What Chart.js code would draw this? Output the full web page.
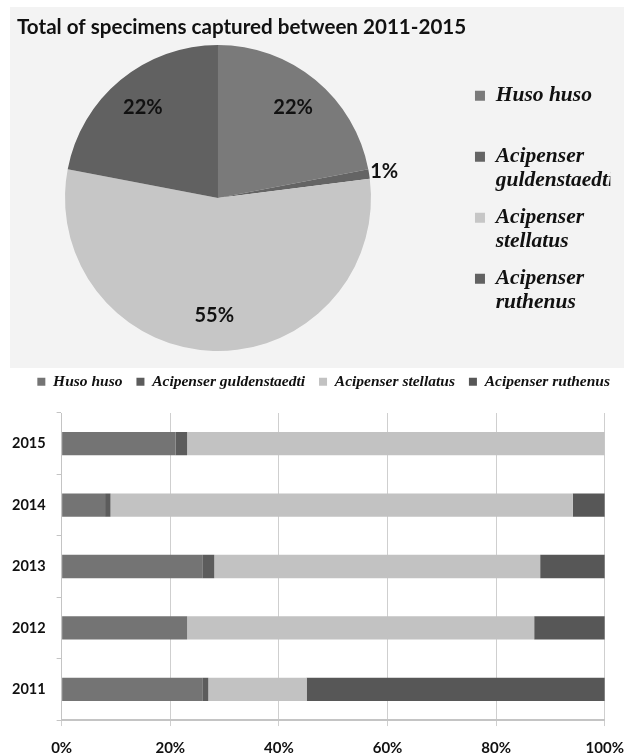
<!DOCTYPE html>
<html>
<head>
<meta charset="utf-8">
<script src="https://cdn.jsdelivr.net/npm/chart.js@4/dist/chart.umd.min.js"></script>
<style>
    body { margin: 0; background: #ffffff; }
    #page { position: relative; width: 624px; height: 756px; overflow: hidden; }
    #pieChart { position: absolute; left: 10px; top: 7px; background: #f3f3f3; }
    #barChart { position: absolute; left: 0px; top: 360px; }
</style>
</head>
<body>
<div id="page">
    <canvas id="pieChart" width="614" height="361"></canvas>
    <canvas id="barChart" width="624" height="410"></canvas>
</div>
<script>
const species = ["Huso huso", "Acipenser guldenstaedti", "Acipenser stellatus", "Acipenser ruthenus"];

// total 2011-2015 (%)
const totalShare = [22, 1, 55, 22];

// yearly share per species (%)
const years = ["2011", "2012", "2013", "2014", "2015"];
const husoHuso = [26.0, 23.1, 26.0, 8.0, 21.0];
const guldenstaedti = [1.0, 0, 2.1, 1.0, 2.1];
const stellatus = [18.1, 63.9, 60.0, 85.1, 76.9];
const ruthenus = [54.9, 13.0, 11.9, 5.9, 0];

const xTicks = [0, 20, 40, 60, 80, 100];

const pieColors = ["#7a7a7a", "#646464", "#c6c6c6", "#616161"];
const barColors = ["#747474", "#5c5c5c", "#c2c2c2", "#575757"];

const sansFont = "Lato";
const serifFont = "'Liberation Serif', 'Times New Roman', serif";

Chart.defaults.animation = false;
Chart.defaults.color = "#111111";

// percentage labels on the pie, small slices go outside
const pieLabels = {
    id: "pieLabels",
    afterDatasetsDraw(chart) {
        const ctx = chart.ctx;
        const values = chart.data.datasets[0].data;
        const total = values.reduce((a, b) => a + b, 0);
        chart.getDatasetMeta(0).data.forEach((arc, i) => {
            const share = values[i] / total * 100;
            const mid = (arc.startAngle + arc.endAngle) / 2;
            const r = arc.outerRadius * (share < 5 ? 1.1 : 0.77);
            ctx.save();
            ctx.font = "bold 20px " + sansFont;
            ctx.fillStyle = "#111111";
            ctx.textAlign = "center";
            ctx.textBaseline = "middle";
            ctx.fillText(Math.round(share) + "%", arc.x + Math.cos(mid) * r, arc.y + Math.sin(mid) * r);
            ctx.restore();
        });
    }
};

function pieLegendLabels(chart) {
    const items = Chart.overrides.doughnut.plugins.legend.labels.generateLabels(chart);
    items.forEach(item => {
        const name = item.text;
        item.text = name.startsWith("Acipenser ") ? ["Acipenser", name.slice(10)] : [name, ""];
        item.lineWidth = 0;
    });
    return items;
}

// empty layout box, only used to keep space free
function spacer(position, size) {
    return {
        display: true,
        text: "",
        position: position,
        weight: 500,
        font: { size: 1, lineHeight: 1 },
        padding: { top: size - 1, bottom: 0 }
    };
}

new Chart(document.getElementById("pieChart"), {
    type: "pie",
    data: {
        labels: species,
        datasets: [{
            data: totalShare,
            backgroundColor: pieColors,
            borderWidth: 0
        }]
    },
    options: {
        responsive: false,
        layout: { padding: { left: 7, right: 13.7, top: 0, bottom: 17 } },
        plugins: {
            tooltip: { enabled: false },
            title: {
                display: true,
                text: "Total of specimens captured between 2011-2015",
                align: "start",
                color: "#111111",
                font: { family: sansFont, size: 20.6, weight: "bold", lineHeight: 1.165 },
                padding: { top: 8, bottom: 6 }
            },
            subtitle: spacer("right", 43),
            legend: {
                position: "right",
                title: { display: true, text: "", font: { size: 1, lineHeight: 1 }, padding: { top: 42, bottom: 0 } },
                labels: {
                    generateLabels: pieLegendLabels,
                    boxWidth: 10,
                    boxHeight: 10,
                    padding: 13,
                    color: "#111111",
                    font: { family: serifFont, size: 21.5, style: "italic", weight: "bold", lineHeight: 1.115 }
                }
            }
        }
    },
    plugins: [pieLabels]
});

const barSeries = [husoHuso, guldenstaedti, stellatus, ruthenus];

new Chart(document.getElementById("barChart"), {
    type: "bar",
    data: {
        labels: years,
        datasets: barSeries.map((values, i) => ({
            label: species[i],
            data: values,
            backgroundColor: barColors[i],
            borderWidth: 0,
            barPercentage: 0.38,
            categoryPercentage: 1
        }))
    },
    options: {
        responsive: false,
        indexAxis: "y",
        layout: { padding: { left: 1, right: 0, top: 0, bottom: 0 } },
        scales: {
            x: {
                stacked: true,
                min: 0,
                max: 100,
                afterBuildTicks: axis => { axis.ticks = xTicks.map(v => ({ value: v })); },
                ticks: {
                    callback: v => v + "%",
                    color: "#111111",
                    padding: 0,
                    font: { family: sansFont, size: 15, weight: "bold", lineHeight: 2.93 }
                },
                grid: { color: "#cfcfcf", tickLength: 6 },
                border: { color: "#c4c4c4", width: 2 }
            },
            y: {
                stacked: true,
                reverse: true,
                ticks: {
                    color: "#111111",
                    padding: 11,
                    font: { family: sansFont, size: 14.5, weight: "bold" }
                },
                grid: { drawOnChartArea: false, tickLength: 5, color: "#c4c4c4" },
                border: { color: "#c4c4c4" }
            }
        },
        plugins: {
            tooltip: { enabled: false },
            subtitle: spacer("top", 13.5),
            legend: {
                position: "top",
                align: "end",
                labels: {
                    boxWidth: 8,
                    boxHeight: 8,
                    padding: 14,
                    color: "#111111",
                    font: { family: serifFont, size: 15.5, style: "italic", weight: "bold" }
                }
            }
        }
    }
});
</script>
</body>
</html>
